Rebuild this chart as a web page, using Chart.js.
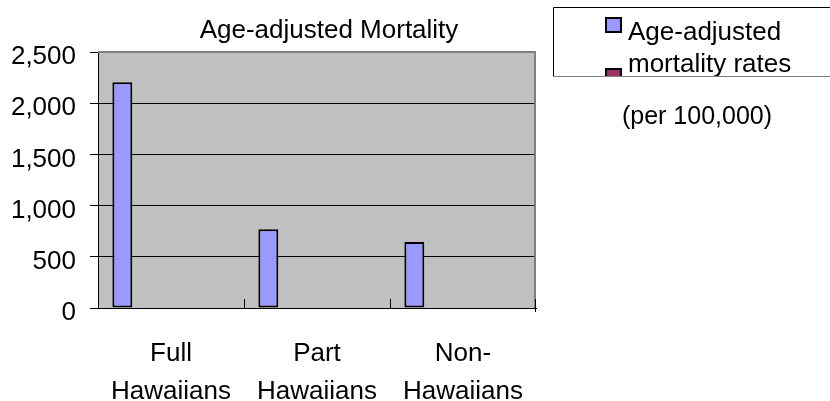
<!DOCTYPE html>
<html>
<head>
<meta charset="utf-8">
<script src="https://cdn.jsdelivr.net/npm/chart.js@4.4.0/dist/chart.umd.min.js"></script>
<style>
  html, body { margin: 0; padding: 0; background: #fff; }
  #wrap { width: 830px; height: 401px; }
</style>
</head>
<body>
<div id="wrap"><canvas id="mortalityChart" width="830" height="401"></canvas></div>
<script>
// data
const groups = [['Full', 'Hawaiians'], ['Part', 'Hawaiians'], ['Non-', 'Hawaiians']];
const mortalityRates = [2205, 770, 645];
const secondSeries = [null, null, null];   // second legend entry, no visible bars
const spacerSeries = [null, null, null];   // empty slot, keeps bars at the left of each group
const seriesNames = ['Age-adjusted mortality rates', ''];
const yTicks = [0, 500, 1000, 1500, 2000, 2500];
const chartTitle = 'Age-adjusted Mortality';
const unitNote = '(per 100,000)';

const FONT = '"Liberation Sans", Arial, sans-serif';

function wrapText(ctx, text, maxWidth) {
  const words = text.split(' ');
  const lines = [];
  let line = '';
  words.forEach(function (w) {
    const test = line ? line + ' ' + w : w;
    if (line && ctx.measureText(test).width > maxWidth) {
      lines.push(line);
      line = w;
    } else {
      line = test;
    }
  });
  if (line) lines.push(line);
  return lines;
}

const excelFrame = {
  id: 'excelFrame',
  beforeDraw(chart) {
    const a = chart.chartArea;
    const ctx = chart.ctx;
    ctx.save();
    ctx.fillStyle = '#C0C0C0';
    ctx.fillRect(a.left, a.top, a.right - a.left, a.bottom - a.top);
    ctx.restore();
  },
  afterDraw(chart) {
    const a = chart.chartArea;
    const ctx = chart.ctx;
    const x = chart.scales.x;
    ctx.save();

    // grey top / right frame
    ctx.strokeStyle = '#808080';
    ctx.lineWidth = 2;
    ctx.beginPath();
    ctx.moveTo(a.left, a.top);
    ctx.lineTo(a.right - 1, a.top);
    ctx.lineTo(a.right - 1, a.bottom);
    ctx.stroke();

    // short inside tick marks between categories
    ctx.strokeStyle = '#000';
    ctx.lineWidth = 1;
    for (let i = 1; i <= groups.length; i++) {
      const px = i < groups.length
        ? Math.round((x.getPixelForValue(i - 1) + x.getPixelForValue(i)) / 2) + 0.5
        : a.right - 0.5;
      ctx.beginPath();
      ctx.moveTo(px, a.bottom - 9);
      ctx.lineTo(px, i < groups.length ? a.bottom : a.bottom + 4);
      ctx.stroke();
    }

    // title
    ctx.fillStyle = '#000';
    ctx.font = '26px ' + FONT;
    ctx.textAlign = 'center';
    ctx.textBaseline = 'alphabetic';
    ctx.fillText(chartTitle, 329, 38);

    // unit note under the legend
    ctx.font = '25px ' + FONT;
    ctx.fillText(unitNote, 697, 124);

    // legend box (cut off on the right and bottom like the original)
    ctx.font = '26px ' + FONT;
    ctx.fillStyle = '#fff';
    ctx.fillRect(554, 8, 276, 68);
    ctx.strokeStyle = '#000';
    ctx.beginPath();
    ctx.moveTo(553.5, 76.5);
    ctx.lineTo(553.5, 7.5);
    ctx.lineTo(830, 7.5);
    ctx.stroke();
    ctx.strokeStyle = '#808080';
    ctx.beginPath();
    ctx.moveTo(553.5, 76.5);
    ctx.lineTo(830, 76.5);
    ctx.stroke();

    ctx.beginPath();
    ctx.rect(554, 8, 276, 68);
    ctx.clip();
    ctx.textAlign = 'left';
    let top = 17;
    [0, 1].forEach(function (i) {
      const ds = chart.data.datasets[i];
      ctx.fillStyle = ds.backgroundColor;
      ctx.fillRect(606, top + 1, 15, 14);
      ctx.strokeStyle = '#000';
      ctx.lineWidth = 2;
      ctx.strokeRect(606, top + 1, 15, 14);
      ctx.fillStyle = '#000';
      const lines = wrapText(ctx, ds.label, 180);
      lines.forEach(function (ln, j) {
        ctx.fillText(ln, 628, top + 23 + j * 32);
      });
      top += 51;
    });
    ctx.restore();
  }
};

const ctx = document.getElementById('mortalityChart').getContext('2d');

new Chart(ctx, {
  type: 'bar',
  data: {
    labels: groups,
    datasets: [
      {
        label: seriesNames[0],
        data: mortalityRates,
        backgroundColor: '#9999FF',
        borderColor: '#000',
        borderWidth: 2,
        borderSkipped: false,
        barPercentage: 0.41,
        categoryPercentage: 1
      },
      {
        label: seriesNames[1],
        data: secondSeries,
        backgroundColor: '#993366',
        borderColor: '#000',
        borderWidth: 2,
        borderSkipped: false,
        barPercentage: 0.41,
        categoryPercentage: 1
      },
      {
        label: '',
        data: spacerSeries,
        backgroundColor: 'rgba(0,0,0,0)',
        borderWidth: 0,
        barPercentage: 0.41,
        categoryPercentage: 1
      }
    ]
  },
  options: {
    responsive: false,
    animation: false,
    layout: { padding: { top: 52, right: 294, left: 0, bottom: 0 } },
    plugins: {
      legend: { display: false },
      title: { display: false },
      tooltip: { enabled: false }
    },
    scales: {
      x: {
        grid: { display: false, drawTicks: false },
        border: { display: true, color: '#000', width: 1 },
        ticks: {
          color: '#000',
          font: { family: FONT, size: 26, lineHeight: 1.46 },
          padding: 27,
          maxRotation: 0,
          autoSkip: false
        },
        afterFit(scale) { scale.height = 93; }
      },
      y: {
        min: 0,
        max: 2500,
        afterBuildTicks(scale) {
          scale.ticks = yTicks.map(function (v) { return { value: v }; });
        },
        grid: {
          color: function (c) { return c.tick && c.tick.value === 2500 ? '#808080' : '#000'; },
          tickColor: '#000',
          tickLength: 8,
          lineWidth: 1
        },
        border: { display: true, color: '#000', width: 1 },
        ticks: {
          color: '#000',
          font: { family: FONT, size: 26 },
          padding: 14,
          labelOffset: 5,
          callback: function (v) { return Number(v).toLocaleString('en-US'); }
        },
        afterFit(scale) { scale.width = 98; }
      }
    }
  },
  plugins: [excelFrame]
});
</script>
</body>
</html>
